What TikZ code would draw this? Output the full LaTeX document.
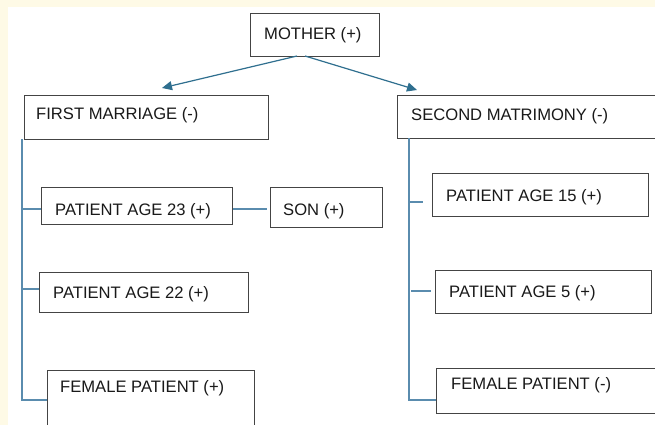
\documentclass[tikz,border=0pt]{standalone}
\usepackage{fontspec}
\setmainfont{Liberation Sans}
\usetikzlibrary{arrows.meta}
\definecolor{cream}{HTML}{FEFAE6}
\definecolor{boxline}{HTML}{444444}
\definecolor{arrowc}{HTML}{2F6F8F}
\definecolor{linkc}{HTML}{5A8CAE}
\begin{document}
\begin{tikzpicture}[x=1pt,y=-1pt,
  boxst/.style={draw=boxline,line width=1.3pt,fill=white},
  txt/.style={anchor=base west,inner sep=0pt,font=\fontsize{16.6}{19}\selectfont,text=black!90},
  arr/.style={draw=arrowc,line width=1.2pt,-{Triangle[length=10pt,width=9pt]}},
  link/.style={draw=linkc,line width=1.2pt}]
\useasboundingbox (0,0) rectangle (655,425);
\fill[white] (0,0) rectangle (655,425);
\fill[cream] (0,0) rectangle (8,425);
\fill[cream] (0,0) rectangle (655,7);
% boxes
\newcommand{\mybox}[5]{\node[boxst,inner sep=0pt,anchor=north west,minimum width=#4-#2,minimum height=#5-#3] (#1) at (#2,#3) {};}
\mybox{mother}{250}{13}{379}{56}
\mybox{fm}{24}{95}{268}{139}
\mybox{sm}{397}{95}{660}{138}
\mybox{pa}{41}{187}{232}{224}
\mybox{son}{270}{187}{382}{227}
\mybox{pb}{39}{272}{248}{312}
\mybox{fp}{47}{370}{254}{430}
\mybox{pc}{432}{173}{648}{216}
\mybox{pd}{435}{270}{651}{313}
\mybox{ff}{436}{368}{662}{413}
% texts
\node[txt] (motherT) at (264,40) {MOTHER (+)};
\node[txt] (fmT) at (36,119) {FIRST MARRIAGE (-)};
\node[txt] (smT) at (411,121) {SECOND MATRIMONY (-)};
\node[txt] (paT) at (55,215) {PATIENT AGE 23 (+)};
\node[txt] (sonT) at (283,215) {SON (+)};
\node[txt] (pbT) at (53,298) {PATIENT AGE 22 (+)};
\node[txt] (fpT) at (60,392) {FEMALE PATIENT (+)};
\node[txt] (pcT) at (446,201) {PATIENT AGE 15 (+)};
\node[txt] (pdT) at (449,297) {PATIENT AGE 5 (+)};
\node[txt] (ffT) at (451,389) {FEMALE PATIENT (-)};
% arrows
\coordinate (mL) at (297,56);
\coordinate (mR) at (305,56);
\coordinate (tL) at (162,88);
\coordinate (tR) at (417,90);
\draw[arr] (mL) -- (tL);
\draw[arr] (mR) -- (tR);
% left tree
\coordinate (l0) at (22,139);
\coordinate (l1) at (22,209);
\coordinate (l2) at (22,289);
\coordinate (l3) at (22,400);
\draw[link] (l0) -- (l3) -- (l3 -| fp.west);
\draw[link] (l1) -- (l1 -| pa.west);
\draw[link] (l2) -- (l2 -| pb.west);
\coordinate (s1) at (233,209);
\coordinate (s2) at (267,209);
\draw[link] (s1) -- (s2);
% right tree
\coordinate (r0) at (409,138);
\coordinate (r1) at (409,202);
\coordinate (r1e) at (423,202);
\coordinate (r2) at (411,291);
\coordinate (r2e) at (431,291);
\coordinate (r3) at (409,400);
\draw[link] (r0) -- (r3) -- (r3 -| ff.west);
\draw[link] (r1) -- (r1e);
\draw[link] (r2) -- (r2e);
\end{tikzpicture}
\end{document}
